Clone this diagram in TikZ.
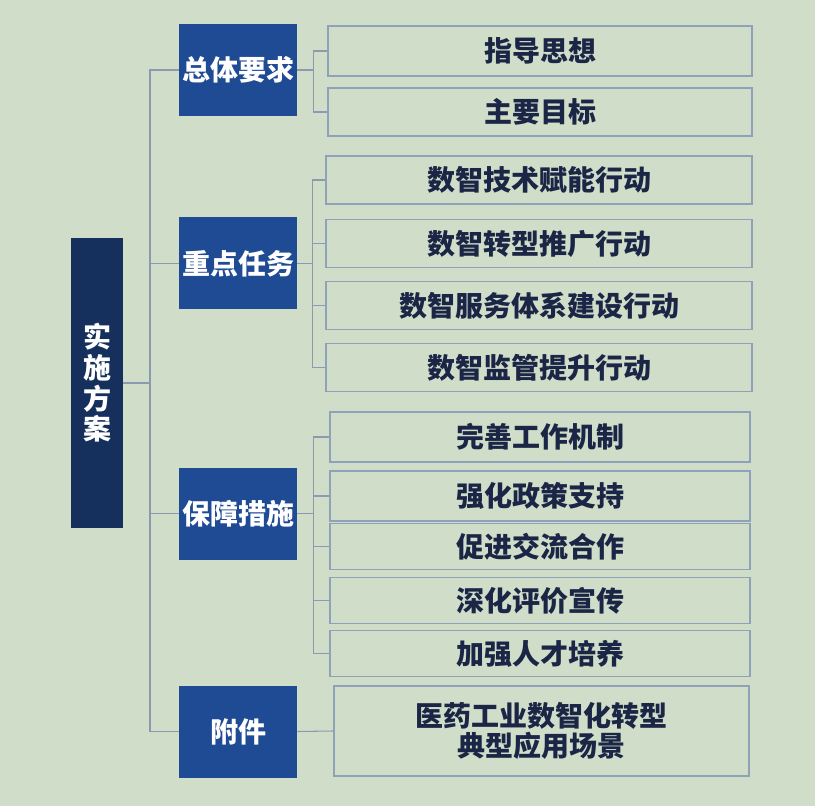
\documentclass[tikz,border=0pt]{standalone}
\usepackage{fontspec}
\setmainfont{Noto Sans CJK SC}
\usetikzlibrary{positioning}

\definecolor{bgcol}{HTML}{CFDDC9}
\definecolor{rootcol}{HTML}{15305D}
\definecolor{levelcol}{HTML}{1F4A94}
\definecolor{itemline}{HTML}{8FA2BA}
\definecolor{itemtext}{HTML}{1B2545}
\definecolor{linkcol}{HTML}{8A9BB0}

\begin{document}
\begin{tikzpicture}[
		x=0.75pt, y=-0.75pt,
		every node/.style={
			inner sep=0pt,
			align=center,
			font=\bfseries\fontsize{21}{23}\selectfont
		},
		rootbox/.style={
			fill=rootcol,
			text=white,
			minimum width=39pt,
			minimum height=217.5pt
		},
		levelbox/.style={
			fill=levelcol,
			text=white,
			minimum width=88.5pt,
			minimum height=69pt
		},
		itembox/.style={
			draw=itemline,
			line width=0.8pt,
			text=itemtext,
			minimum height=36pt
		},
		link/.style={
			draw=linkcol,
			line width=0.8pt
		}
		]
		
		% background and size
		\fill[bgcol] (0,0) rectangle (815,806);
		\useasboundingbox (0,0) rectangle (815,806);
		
		%--------------------------------------------------
		% Nodes
		%--------------------------------------------------
		
		\node[rootbox] (plan) at (97,383) {实\\施\\方\\案};
		
		\node[levelbox] (overall) at (238,70) {总体要求};
		\node[levelbox] (tasks) at (238,263.5) {重点任务};
		\node[levelbox] (support) at (238,513.5) {保障措施};
		\node[levelbox] (annex) at (238,731.5) {附件};
		
		\node[itembox, minimum width=318pt, minimum height=37.5pt] (guide) at (540,51) {指导思想};
		\node[itembox, minimum width=318pt] (goal) at (540,112) {主要目标};
		
		\node[itembox, minimum width=319.5pt] (tech) at (539,180) {数智技术赋能行动};
		\node[itembox, minimum width=319.5pt] (promo) at (539,243.5) {数智转型推广行动};
		\node[itembox, minimum width=319.5pt] (service) at (539,305.5) {数智服务体系建设行动};
		\node[itembox, minimum width=319.5pt] (supervise) at (539,367.5) {数智监管提升行动};
		
		\node[itembox, minimum width=315pt, minimum height=37.5pt] (mech) at (540,437) {完善工作机制};
		\node[itembox, minimum width=315pt, minimum height=37.5pt] (policy) at (540,496) {强化政策支持};
		\node[itembox, minimum width=315pt, minimum height=35pt] (coop) at (540,546.5) {促进交流合作};
		\node[itembox, minimum width=315pt, minimum height=35pt] (review) at (540,600.5) {深化评价宣传};
		\node[itembox, minimum width=315pt, minimum height=35pt] (talent) at (540,653.5) {加强人才培养};
		
		\node[itembox, minimum width=311.25pt, minimum height=67.5pt] (scene) at (541.5,731)
		{医药工业数智化转型\\典型应用场景};
		
		%--------------------------------------------------
		% Connectors
		%--------------------------------------------------
		
		\coordinate (trunk) at (150,383);
		
		\foreach \lvl in {overall,tasks,support,annex}
		\draw[link] (plan.east) -- (trunk) |- (\lvl.west);
		
		\foreach \item in {guide,goal}
		\draw[link] (overall.east) -- ++(16,0) |- (\item.west);
		
		\foreach \item in {tech,promo,service,supervise}
		\draw[link] (tasks.east) -- ++(15,0) |- (\item.west);
		
		\foreach \item in {mech,policy,coop,review,talent}
		\draw[link] (support.east) -- ++(16,0) |- (\item.west);
		
		\draw[link] (annex.east) -- (scene.west);
		
	\end{tikzpicture}
\end{document}
